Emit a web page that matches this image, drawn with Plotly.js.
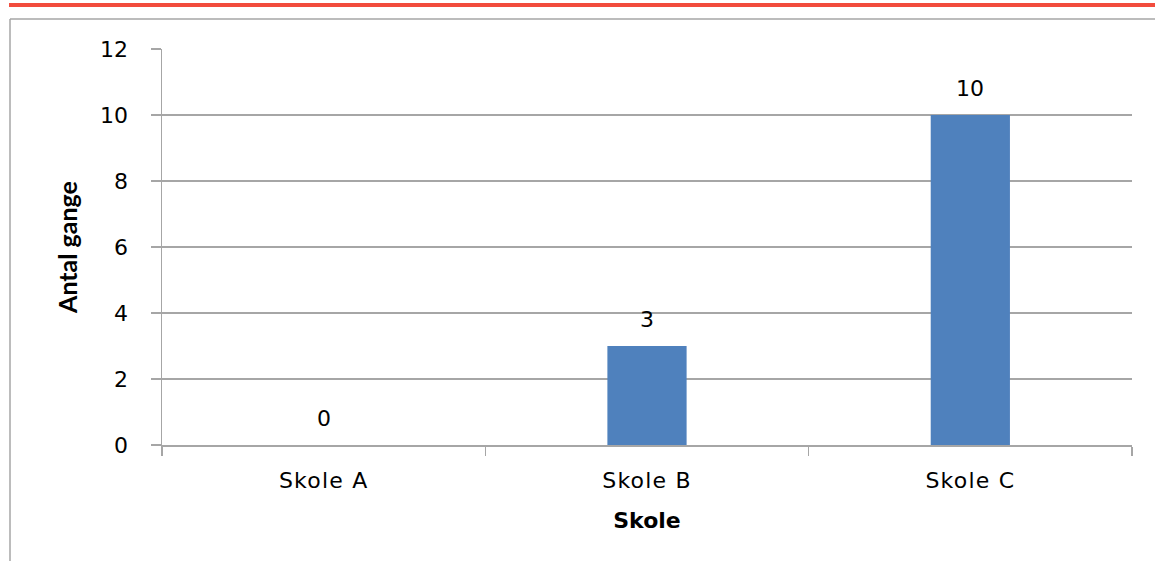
<!DOCTYPE html>
<html>
<head>
<meta charset="utf-8">
<script src="https://cdn.plot.ly/plotly-3.0.1.min.js"></script>
<style>
html,body{margin:0;padding:0;background:#fff;}
#chart{width:1155px;height:561px;}
#chart .xtick text{letter-spacing:1.2px;}
</style>
</head>
<body>
<div id="chart"></div>
<script>
const categories = ["Skole A", "Skole B", "Skole C"];
const values = [0, 3, 10];
const yTicks = [0, 2, 4, 6, 8, 10, 12];
const xTitle = "Skole";
const yTitle = "Antal gange";

const tickFont = {family: "DejaVu Sans, sans-serif", size: 22, color: "#000"};
const xTitleFont = {family: "DejaVu Sans, sans-serif", size: 22, color: "#000", weight: "bold"};
const yTitleFont = {family: "Lato, Open Sans, sans-serif", size: 25, color: "#000", weight: "bold"};
const gray = "#a6a6a6";

const trace = {
  type: "bar",
  x: categories,
  y: values,
  marker: {color: "#4f81bd"},
  hoverinfo: "x+y"
};

const annotations = categories.map((c, i) => ({
  x: c, y: values[i], xref: "x", yref: "y",
  text: String(values[i]), showarrow: false,
  yanchor: "bottom", yshift: 12,
  font: tickFont
}));

const layout = {
  width: 1155, height: 561,
  margin: {l: 162, r: 23, t: 49, b: 116},
  paper_bgcolor: "#fff", plot_bgcolor: "#fff",
  bargap: 0.755,
  showlegend: false,
  xaxis: {
    type: "category",
    tickson: "boundaries",
    ticks: "outside", ticklen: 9, tickwidth: 1.5, tickcolor: gray,
    showline: true, linecolor: gray, linewidth: 1.5,
    showgrid: false, zeroline: false,
    tickfont: tickFont,
    ticklabelstandoff: 15,
    title: {text: xTitle, font: xTitleFont, standoff: 20}
  },
  yaxis: {
    range: [0, 12],
    tickvals: yTicks,
    ticks: "outside", ticklen: 10, tickwidth: 1.5, tickcolor: gray,
    showline: true, linecolor: gray, linewidth: 1.5,
    showgrid: true, gridcolor: gray, gridwidth: 1.5,
    zeroline: false,
    tickfont: tickFont,
    ticklabelstandoff: 18,
    title: {text: yTitle, font: yTitleFont, standoff: 15}
  },
  annotations: annotations,
  shapes: [
    {type: "line", xref: "paper", yref: "paper", x0: -0.1577, x1: 1.03, y0: 1.1111, y1: 1.1111,
     line: {color: "#f24c3d", width: 4}, layer: "above"},
    {type: "line", xref: "paper", yref: "paper", x0: -0.1567, x1: 1.03, y0: 1.0758, y1: 1.0758,
     line: {color: gray, width: 1.5}},
    {type: "line", xref: "paper", yref: "paper", x0: -0.1567, x1: -0.1567, y0: 1.0758, y1: -0.5,
     line: {color: gray, width: 1.5}}
  ]
};

Plotly.newPlot("chart", [trace], layout, {displayModeBar: false, staticPlot: true});
</script>
</body>
</html>
